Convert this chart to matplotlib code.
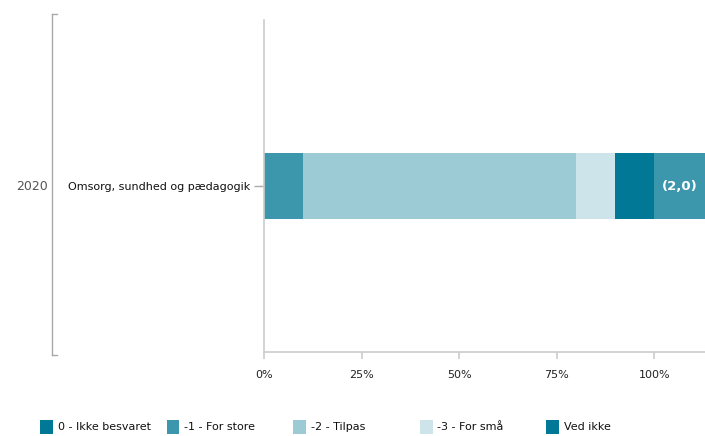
import matplotlib.pyplot as plt
from matplotlib.patches import Rectangle
from matplotlib.lines import Line2D

# data
year = "2020"
category = "Omsorg, sundhed og pædagogik"
series = ["0 - Ikke besvaret", "-1 - For store", "-2 - Tilpas", "-3 - For små", "Ved ikke"]
values = [0, 10, 70, 10, 10]
colors = ["#007896", "#3d97ac", "#9ccbd6", "#cde5ea", "#007896"]
avg_label = "(2,0)"
xticks = [0, 25, 50, 75, 100]

plt.rcParams['font.family'] = ['DejaVu Sans']

fig = plt.figure(figsize=(7.05, 4.36), dpi=100)
W, H = 705, 436
ax = fig.add_axes([264 / W, (H - 352) / H, 1 - 264 / W, (352 - 20) / H])

# stacked bar
left = 0
for name, v, c in zip(series, values, colors):
    ax.barh(0, v, left=left, height=0.2, color=c, linewidth=0)
    left += v

# mean label box past 100%
ax.barh(0, 20, left=left, height=0.2, color="#3d97ac", linewidth=0)
ax.text(left + 6.5, 0, avg_label, color="white", fontsize=9.5, fontweight="bold",
        ha="center", va="center")

ax.set_xlim(0, 113)
ax.set_ylim(-0.5, 0.5)
ax.set_xticks(xticks)
ax.set_xticklabels([f"{t}%" for t in xticks], fontsize=8, color="#222222")
ax.set_yticks([0])
ax.set_yticklabels([category], fontsize=8, color="#111111")
ax.tick_params(axis="x", length=5, color="#cccccc", width=1.2, pad=8)
ax.tick_params(axis="y", length=7, color="#aaaaaa", width=1, pad=3)
for s in ["top", "right"]:
    ax.spines[s].set_visible(False)
ax.spines["left"].set_color("#cccccc")
ax.spines["bottom"].set_color("#cccccc")
ax.spines["left"].set_linewidth(1.2)
ax.spines["bottom"].set_linewidth(1.2)

# year grouping bracket
bx = 52
fig.add_artist(Line2D([bx / W, bx / W], [(H - 14) / H, (H - 355) / H], color="#aaaaaa", lw=1))
fig.add_artist(Line2D([bx / W, (bx + 5) / W], [(H - 14) / H, (H - 14) / H], color="#aaaaaa", lw=1))
fig.add_artist(Line2D([bx / W, (bx + 5) / W], [(H - 355) / H, (H - 355) / H], color="#aaaaaa", lw=1))
fig.text(48 / W, (H - 186) / H, year, ha="right", va="center", fontsize=9, color="#555555")

# legend
lx = 40
for name, c in zip(series, colors):
    fig.add_artist(Rectangle((lx / W, (H - 434) / H), 13 / W, 14 / H, color=c, lw=0))
    fig.text((lx + 18) / W, (H - 427) / H, name, ha="left", va="center", fontsize=8, color="#111111")
    lx += 126.5

fig.savefig("out.png", dpi=100)
